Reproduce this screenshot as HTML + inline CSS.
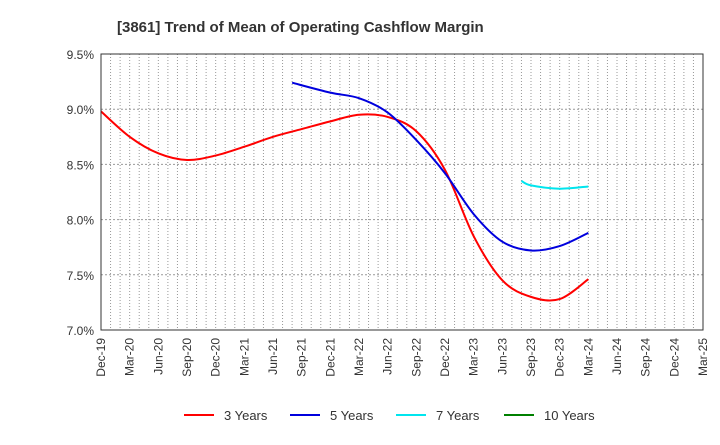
<!DOCTYPE html>
<html><head><meta charset="utf-8"><style>
body{margin:0;background:#fff;font-family:"Liberation Sans",sans-serif}
</style></head><body>
<svg id="c" width="720" height="440" xmlns="http://www.w3.org/2000/svg">
<text x="117" y="32" font-size="15" font-weight="bold" fill="#333">[3861]  Trend of Mean of Operating Cashflow Margin</text>
<g id="grid"></g><g id="series"></g><g id="axes"></g><g id="legend"></g>
</svg>
<script>
const xLabels=["Dec-19","Mar-20","Jun-20","Sep-20","Dec-20","Mar-21","Jun-21","Sep-21","Dec-21","Mar-22","Jun-22","Sep-22","Dec-22","Mar-23","Jun-23","Sep-23","Dec-23","Mar-24","Jun-24","Sep-24","Dec-24","Mar-25"];
const yTicks=[7.0,7.5,8.0,8.5,9.0,9.5];
const m3=[0,3,6,9,12,15,18,21,24,27,30,33,36,39,42,45,48,51];
const v3=[8.98,8.75,8.60,8.54,8.58,8.66,8.75,8.82,8.89,8.95,8.93,8.80,8.45,7.85,7.45,7.30,7.28,7.46];
const m5=[20,24,27,30,33,36,39,42,45,48,51];
const v5=[9.24,9.15,9.10,8.97,8.72,8.42,8.05,7.80,7.72,7.76,7.88];
const m7=[44,45,48,51];
const v7=[8.35,8.31,8.28,8.30];
const m10=[];const v10=[];
const X0=101,X1=703,Y0=330,Y1=54;
const xs=m=>X0+m*(X1-X0)/63;
const ys=v=>Y0-(v-7.0)*(Y0-Y1)/2.5;
const NS="http://www.w3.org/2000/svg";
function mk(t,a,p){const e=document.createElementNS(NS,t);for(const k in a)e.setAttribute(k,a[k]);p.appendChild(e);return e;}
const grid=document.getElementById('grid'),axes=document.getElementById('axes'),ser=document.getElementById('series'),leg=document.getElementById('legend');
for(let m=1;m<63;m++){const l=mk('line',{x1:xs(m),x2:xs(m),y1:Y1,y2:Y0,stroke:'#999','stroke-dasharray':'1,2','stroke-width':1},grid);

}
yTicks.forEach(t=>{const l=mk('line',{x1:X0,x2:X1,y1:ys(t),y2:ys(t),stroke:'#999','stroke-dasharray':'2,2'},grid);


const tx=mk('text',{x:X0-7,y:ys(t)+5,'text-anchor':'end','font-size':12,fill:'#333'},axes);tx.textContent=t.toFixed(1)+'%';

});
const fr=mk('rect',{x:X0,y:Y1,width:X1-X0,height:Y0-Y1,fill:'none',stroke:'#333'},axes);


xLabels.forEach((s,i)=>{const x=xs(i*3);const tx=mk('text',{transform:`translate(${x+4},${Y0+8}) rotate(-90)`,'text-anchor':'end','font-size':12,fill:'#333'},axes);tx.textContent=s;

});
function path(ms,vs){const p=ms.map((m,i)=>[xs(m),ys(vs[i])]);if(p.length<2)return'';let d=`M${p[0][0]},${p[0][1]}`;
for(let i=0;i<p.length-1;i++){const a=p[i-1]||p[i],b=p[i],c=p[i+1],e=p[i+2]||c;
d+=` C${b[0]+(c[0]-a[0])/6},${b[1]+(c[1]-a[1])/6} ${c[0]-(e[0]-b[0])/6},${c[1]-(e[1]-b[1])/6} ${c[0]},${c[1]}`;}return d;}
const S=[["3 Years",m3,v3,"#ff0000"],["5 Years",m5,v5,"#0000dd"],["7 Years",m7,v7,"#00e5ee"],["10 Years",m10,v10,"#008000"]];
S.forEach((s,i)=>{const d=path(s[1],s[2]);if(d){const p=mk('path',{d:d,fill:'none',stroke:s[3],'stroke-width':2},ser);

}
const lx=[184,290,396,504][i];
const g=mk('g',{},leg);


mk('line',{x1:lx,x2:lx+30,y1:415,y2:415,stroke:s[3],'stroke-width':2},g);
const t=mk('text',{x:lx+40,y:420,'font-size':13,fill:'#333'},g);t.textContent=s[0];});
</script>
</body></html>
